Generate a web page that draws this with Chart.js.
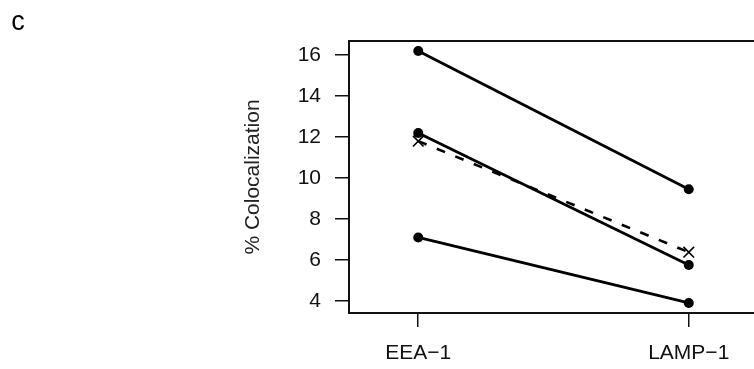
<!DOCTYPE html>
<html>
<head>
<meta charset="utf-8">
<script src="https://cdn.jsdelivr.net/npm/chart.js@4"></script>
<style>
  html, body { margin: 0; padding: 0; background: #fff; overflow: hidden; }
  #wrap { width: 770px; height: 369px; }
</style>
</head>
<body>
<div id="wrap"><canvas id="chart"></canvas></div>
<script>
// data
const categories = ['EEA\u22121', 'LAMP\u22121'];
const yTicks = [4, 6, 8, 10, 12, 14, 16];
const highSeries = [16.2, 9.45];
const midSeries = [12.2, 5.75];
const lowSeries = [7.1, 3.9];
const meanSeries = [11.8, 6.38];

const FONT = 'Liberation Sans, Arial, Helvetica, sans-serif';
const toPoints = arr => arr.map((v, i) => ({ x: i + 1, y: v }));

const solid = (data) => ({
    data: toPoints(data),
    borderColor: '#000',
    backgroundColor: '#000',
    borderWidth: 2.8,
    pointRadius: 5,
    pointBorderWidth: 0,
    pointStyle: 'circle',
});

// plot box + panel letter
const boxPlugin = {
    id: 'box',
    afterDraw(chart) {
        const { ctx, chartArea: a } = chart;
        ctx.save();
        ctx.strokeStyle = '#111';
        ctx.lineWidth = 2;
        ctx.strokeRect(a.left, a.top, a.right - a.left, a.bottom - a.top);
        ctx.fillStyle = '#000';
        ctx.font = '27px ' + FONT;
        ctx.textAlign = 'center';
        ctx.textBaseline = 'middle';
        ctx.fillText('c', 18, 23);
        ctx.restore();
    }
};

new Chart(document.getElementById('chart'), {
    type: 'line',
    data: {
        datasets: [
            solid(highSeries),
            solid(midSeries),
            solid(lowSeries),
            {
                data: toPoints(meanSeries),
                borderColor: '#000',
                backgroundColor: '#000',
                borderWidth: 2.6,
                borderDash: [9, 11],
                pointStyle: 'crossRot',
                pointRadius: 7.5,
                pointBorderWidth: 1.6,
            }
        ]
    },
    plugins: [boxPlugin],
    options: {
        responsive: true,
        maintainAspectRatio: false,
        animation: false,
        layout: { padding: { top: 41, right: 12, left: 0, bottom: 0 } },
        plugins: { legend: { display: false }, tooltip: { enabled: false } },
        scales: {
            x: {
                type: 'linear',
                min: 0.744,
                max: 2.256,
                afterBuildTicks: s => { s.ticks = [{ value: 1 }, { value: 2 }]; },
                afterFit: s => { s.height = 56; },
                border: { display: false },
                grid: { drawOnChartArea: false, drawTicks: true, tickLength: 14, color: '#111', lineWidth: 1.5 },
                ticks: {
                    color: '#111',
                    padding: 14,
                    font: { family: FONT, size: 21 },
                    maxRotation: 0,
                    callback: v => categories[v - 1]
                }
            },
            y: {
                min: 3.41,
                max: 16.69,
                afterBuildTicks: s => { s.ticks = yTicks.map(v => ({ value: v })); },
                afterFit: s => { s.width = 349; },
                border: { display: false },
                grid: { drawOnChartArea: false, drawTicks: true, tickLength: 14, color: '#111', lineWidth: 1.5 },
                ticks: {
                    color: '#111',
                    padding: 14,
                    font: { family: FONT, size: 21 }
                },
                title: {
                    display: true,
                    text: '% Colocalization',
                    color: '#222',
                    font: { family: FONT, size: 21 },
                    padding: { top: 241, bottom: 0 }
                }
            }
        }
    }
});
</script>
</body>
</html>
